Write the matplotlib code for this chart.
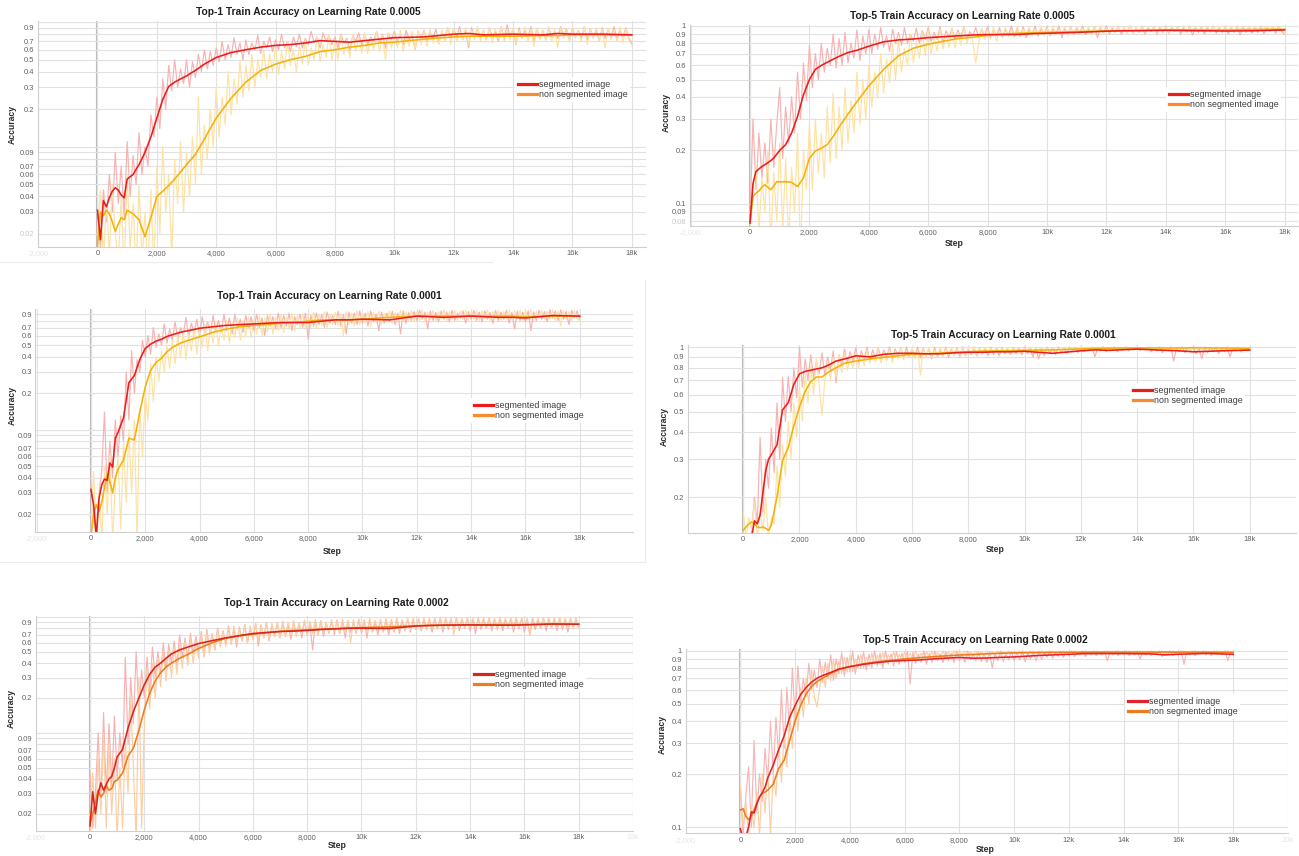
import numpy as np
import matplotlib
matplotlib.use("Agg")
import matplotlib.pyplot as plt
from matplotlib.lines import Line2D
from matplotlib.ticker import FixedLocator, FixedFormatter, NullLocator

W, H = 1299, 856
plt.rcParams['font.family'] = ['Liberation Sans', 'DejaVu Sans']

# ---------------- data ----------------
SMOOTH_STEPS = [0, 100, 200, 300, 400, 500, 600, 700, 800, 900, 1000,
                1200, 1400, 1600, 1800, 2000, 2200, 2400, 2600, 2800, 3000,
                3300, 3600, 4000, 4500, 5000, 5500, 6000, 6500, 7000, 7500, 8000, 8500, 9000, 9500, 10000,
                11000, 12000, 12500, 13000, 14000, 15000, 15500, 16000, 17000, 18000]
RAW_INTERVAL = 100

X_TICKS = [-2000, 0, 2000, 4000, 6000, 8000, 10000, 12000, 14000, 16000, 18000, 20000]
X_LABELS = ["-2,000", "0", "2,000", "4,000", "6,000", "8,000", "10k", "12k", "14k", "16k", "18k", "20k"]
LEGEND_LABELS = ["segmented image", "non segmented image"]

# Panel 1: Top-1, lr 0.0005
p1_seg = [0.031, 0.018, 0.037, 0.033, 0.039, 0.044, 0.047, 0.045, 0.041, 0.039, 0.055,
          0.060, 0.072, 0.090, 0.120, 0.170, 0.240, 0.305, 0.330, 0.350, 0.370,
          0.410, 0.460, 0.520, 0.570, 0.600, 0.630, 0.650, 0.660, 0.680, 0.710, 0.700, 0.690, 0.710, 0.730, 0.750,
          0.760, 0.800, 0.810, 0.790, 0.800, 0.790, 0.810, 0.800, 0.800, 0.790]
p1_non = [0.016, 0.030, 0.028, 0.031, 0.029, 0.025, 0.021, 0.024, 0.027, 0.026, 0.031,
          0.029, 0.026, 0.019, 0.027, 0.040, 0.044, 0.049, 0.055, 0.063, 0.072,
          0.087, 0.115, 0.170, 0.245, 0.330, 0.410, 0.460, 0.500, 0.530, 0.580, 0.600, 0.630, 0.650, 0.680, 0.690,
          0.730, 0.760, 0.770, 0.770, 0.770, 0.780, 0.780, 0.790, 0.790, 0.790]
p1_seg_raw = [0.03, 0.015, 0.045, 0.025, 0.06, 0.03, 0.09, 0.035, 0.07, 0.028,
              0.11, 0.04, 0.085, 0.05, 0.13, 0.06, 0.1, 0.07, 0.18, 0.12,
              0.25, 0.14, 0.35, 0.2, 0.45, 0.28, 0.5, 0.3, 0.42, 0.32,
              0.5, 0.3, 0.48, 0.36, 0.55, 0.4, 0.6, 0.42, 0.58, 0.45,
              0.62, 0.48, 0.7, 0.5, 0.66, 0.52, 0.75, 0.55, 0.68, 0.5,
              0.72, 0.55, 0.68, 0.6, 0.78, 0.56, 0.7, 0.62, 0.76, 0.58,
              0.72, 0.6, 0.8, 0.62, 0.7, 0.58, 0.76, 0.64, 0.8, 0.62,
              0.74, 0.66, 0.84, 0.68, 0.76, 0.62, 0.82, 0.7, 0.78, 0.66,
              0.76, 0.62, 0.8, 0.68, 0.74, 0.58, 0.78, 0.7, 0.82, 0.66,
              0.8, 0.66, 0.76, 0.7, 0.84, 0.68, 0.8, 0.62, 0.82, 0.72,
              0.84, 0.7, 0.8, 0.66, 0.86, 0.72, 0.78, 0.6, 0.84, 0.74,
              0.86, 0.7, 0.82, 0.74, 0.88, 0.68, 0.84, 0.76, 0.9, 0.74,
              0.88, 0.76, 0.92, 0.72, 0.86, 0.62, 0.9, 0.76, 0.88, 0.74,
              0.86, 0.72, 0.9, 0.76, 0.84, 0.7, 0.92, 0.74, 0.95, 0.76,
              0.88, 0.66, 0.9, 0.74, 0.86, 0.76, 0.92, 0.7, 0.88, 0.74,
              0.86, 0.72, 0.9, 0.76, 0.84, 0.74, 0.92, 0.78, 0.88, 0.72,
              0.9, 0.76, 0.86, 0.74, 0.92, 0.72, 0.88, 0.76, 0.86, 0.7,
              0.9, 0.74, 0.88, 0.76, 0.92, 0.72, 0.86, 0.76, 0.9, 0.74,
              0.68]
p1_non_raw = [0.02, 0.045, 0.012, 0.035, 0.014, 0.05, 0.02, 0.012, 0.04, 0.01,
              0.06, 0.015, 0.035, 0.01, 0.05, 0.012, 0.03, 0.01, 0.045, 0.01,
              0.07, 0.02, 0.1, 0.03, 0.06, 0.012, 0.08, 0.035, 0.11, 0.03,
              0.09, 0.04, 0.12, 0.05, 0.25, 0.06, 0.15, 0.08, 0.2, 0.1,
              0.3, 0.12, 0.25, 0.15, 0.4, 0.18, 0.35, 0.22, 0.5, 0.25,
              0.45, 0.28, 0.55, 0.3, 0.5, 0.36, 0.6, 0.35, 0.55, 0.4,
              0.65, 0.38, 0.58, 0.42, 0.7, 0.45, 0.6, 0.4, 0.66, 0.46,
              0.72, 0.45, 0.62, 0.5, 0.76, 0.48, 0.66, 0.52, 0.8, 0.5,
              0.7, 0.5, 0.78, 0.55, 0.72, 0.52, 0.8, 0.58, 0.76, 0.56,
              0.82, 0.56, 0.74, 0.6, 0.84, 0.58, 0.78, 0.5, 0.82, 0.62,
              0.8, 0.62, 0.86, 0.58, 0.78, 0.64, 0.84, 0.6, 0.86, 0.66,
              0.84, 0.64, 0.88, 0.68, 0.8, 0.66, 0.86, 0.7, 0.9, 0.66,
              0.88, 0.7, 0.84, 0.72, 0.9, 0.66, 0.86, 0.72, 0.92, 0.7,
              0.86, 0.72, 0.9, 0.68, 0.88, 0.74, 0.92, 0.7, 0.86, 0.72,
              0.9, 0.66, 0.86, 0.74, 0.92, 0.7, 0.88, 0.64, 0.9, 0.72,
              0.86, 0.72, 0.92, 0.7, 0.88, 0.62, 0.9, 0.74, 0.86, 0.7,
              0.9, 0.74, 0.86, 0.7, 0.92, 0.66, 0.88, 0.74, 0.9, 0.7,
              0.88, 0.62, 0.9, 0.72, 0.86, 0.7, 0.92, 0.68, 0.88, 0.72,
              0.65]

# Panel 2: Top-5, lr 0.0005
p2_seg = [0.078, 0.130, 0.152, 0.157, 0.162, 0.166, 0.170, 0.175, 0.181, 0.190, 0.200,
          0.215, 0.250, 0.310, 0.410, 0.500, 0.570, 0.600, 0.625, 0.650, 0.675,
          0.710, 0.730, 0.770, 0.815, 0.835, 0.845, 0.860, 0.870, 0.880, 0.890, 0.895, 0.895, 0.895, 0.905, 0.910,
          0.920, 0.935, 0.940, 0.940, 0.945, 0.940, 0.940, 0.937, 0.940, 0.950]
p2_non = [0.078, 0.110, 0.115, 0.118, 0.124, 0.128, 0.124, 0.120, 0.126, 0.133, 0.133,
          0.133, 0.132, 0.125, 0.140, 0.180, 0.198, 0.205, 0.215, 0.239, 0.270,
          0.320, 0.375, 0.460, 0.570, 0.680, 0.750, 0.790, 0.820, 0.850, 0.865, 0.885, 0.900, 0.910, 0.915, 0.920,
          0.930, 0.937, 0.940, 0.945, 0.950, 0.953, 0.950, 0.950, 0.955, 0.958]
p2_seg_raw = [0.08, 0.3, 0.12, 0.25, 0.14, 0.22, 0.13, 0.3, 0.16, 0.28,
              0.45, 0.18, 0.35, 0.22, 0.4, 0.25, 0.55, 0.3, 0.62, 0.38,
              0.78, 0.45, 0.7, 0.5, 0.8, 0.55, 0.75, 0.6, 0.9, 0.58,
              0.85, 0.6, 0.92, 0.62, 0.8, 0.66, 0.95, 0.64, 0.88, 0.7,
              0.95, 0.7, 0.9, 0.74, 0.98, 0.76, 0.88, 0.72, 0.96, 0.8,
              0.92, 0.78, 0.98, 0.8, 0.9, 0.82, 0.97, 0.8, 0.94, 0.84,
              0.98, 0.82, 0.92, 0.84, 0.99, 0.8, 0.94, 0.86, 0.97, 0.84,
              0.95, 0.86, 0.99, 0.84, 0.93, 0.88, 0.98, 0.86, 0.96, 0.88,
              0.99, 0.86, 0.94, 0.88, 0.98, 0.86, 0.95, 0.89, 1.0, 0.87,
              0.96, 0.88, 0.99, 0.86, 0.95, 0.9, 1.0, 0.88, 0.96, 0.9,
              0.99, 0.88, 0.96, 0.9, 1.0, 0.86, 0.97, 0.9, 0.99, 0.89,
              0.97, 0.91, 1.0, 0.89, 0.96, 0.92, 0.99, 0.86, 0.98, 0.91,
              1.0, 0.9, 0.97, 0.92, 0.99, 0.9, 0.96, 0.93, 1.0, 0.91,
              0.98, 0.92, 1.0, 0.9, 0.97, 0.93, 0.99, 0.9, 0.98, 0.92,
              1.0, 0.91, 0.97, 0.93, 0.99, 0.9, 0.98, 0.92, 1.0, 0.89,
              0.97, 0.92, 0.99, 0.9, 0.98, 0.93, 1.0, 0.91, 0.97, 0.92,
              0.99, 0.9, 0.97, 0.92, 1.0, 0.89, 0.98, 0.92, 0.99, 0.91,
              0.97, 0.92, 1.0, 0.9, 0.98, 0.93, 0.99, 0.91, 1.0, 0.93,
              0.9]
p2_non_raw = [0.07, 0.12, 0.16, 0.07, 0.14, 0.09, 0.2, 0.06, 0.15, 0.08,
              0.22, 0.07, 0.18, 0.06, 0.16, 0.09, 0.25, 0.05, 0.2, 0.12,
              0.28, 0.12, 0.3, 0.15, 0.25, 0.14, 0.35, 0.17, 0.42, 0.18,
              0.35, 0.2, 0.45, 0.22, 0.38, 0.25, 0.55, 0.28, 0.5, 0.3,
              0.6, 0.35, 0.55, 0.4, 0.7, 0.42, 0.65, 0.48, 0.8, 0.5,
              0.85, 0.55, 0.75, 0.6, 0.9, 0.62, 0.82, 0.66, 0.92, 0.68,
              0.95, 0.7, 0.88, 0.72, 0.96, 0.74, 0.9, 0.76, 0.97, 0.75,
              0.92, 0.78, 0.98, 0.8, 0.9, 0.82, 0.62, 0.8, 0.97, 0.84,
              0.95, 0.84, 0.99, 0.82, 0.94, 0.86, 0.98, 0.87, 0.95, 0.86,
              1.0, 0.87, 0.96, 0.89, 0.99, 0.88, 0.95, 0.9, 1.0, 0.88,
              0.97, 0.9, 1.0, 0.89, 0.96, 0.91, 0.99, 0.88, 0.98, 0.9,
              1.0, 0.9, 0.97, 0.92, 0.99, 0.9, 0.98, 0.92, 1.0, 0.9,
              0.97, 0.92, 1.0, 0.91, 0.98, 0.93, 0.99, 0.91, 1.0, 0.92,
              0.98, 0.93, 1.0, 0.92, 0.99, 0.94, 0.98, 0.92, 1.0, 0.93,
              0.99, 0.92, 1.0, 0.94, 0.98, 0.93, 1.0, 0.92, 0.99, 0.94,
              1.0, 0.93, 0.99, 0.94, 1.0, 0.92, 0.99, 0.94, 1.0, 0.93,
              0.99, 0.94, 1.0, 0.93, 0.99, 0.95, 1.0, 0.93, 0.99, 0.94,
              1.0, 0.93, 0.99, 0.95, 1.0, 0.94, 0.99, 0.95, 1.0, 0.94,
              0.92]

# Panel 3: Top-1, lr 0.0001
p3_seg = [0.032, 0.024, 0.013, 0.027, 0.035, 0.039, 0.038, 0.053, 0.049, 0.085, 0.095,
          0.125, 0.245, 0.280, 0.380, 0.470, 0.510, 0.540, 0.560, 0.590, 0.610,
          0.640, 0.660, 0.690, 0.710, 0.730, 0.740, 0.750, 0.760, 0.770, 0.770, 0.770, 0.790, 0.810, 0.810, 0.820,
          0.810, 0.870, 0.860, 0.850, 0.870, 0.850, 0.850, 0.840, 0.880, 0.870]
p3_non = [0.013, 0.020, 0.024, 0.021, 0.025, 0.033, 0.043, 0.037, 0.030, 0.040, 0.047,
          0.056, 0.085, 0.082, 0.140, 0.225, 0.310, 0.360, 0.390, 0.440, 0.480,
          0.520, 0.550, 0.585, 0.640, 0.680, 0.710, 0.730, 0.740, 0.760, 0.770, 0.790, 0.810, 0.810, 0.810, 0.820,
          0.850, 0.870, 0.870, 0.870, 0.870, 0.870, 0.870, 0.860, 0.870, 0.870]
p3_seg_raw = [0.035, 0.02, 0.012, 0.03, 0.045, 0.14, 0.03, 0.08, 0.04, 0.12,
              0.06, 0.13, 0.08, 0.3, 0.12, 0.45, 0.2, 0.38, 0.3, 0.55,
              0.4, 0.6, 0.42, 0.7, 0.48, 0.62, 0.5, 0.75, 0.52, 0.68,
              0.55, 0.78, 0.56, 0.7, 0.6, 0.85, 0.58, 0.76, 0.62, 0.82,
              0.6, 0.86, 0.64, 0.78, 0.62, 0.88, 0.66, 0.8, 0.64, 0.9,
              0.66, 0.84, 0.62, 0.9, 0.68, 0.82, 0.64, 0.88, 0.7, 0.86,
              0.66, 0.9, 0.7, 0.84, 0.6, 0.88, 0.72, 0.86, 0.68, 0.92,
              0.7, 0.88, 0.72, 0.92, 0.66, 0.86, 0.74, 0.9, 0.7, 0.92,
              0.56, 0.88, 0.72, 0.92, 0.74, 0.9, 0.7, 0.94, 0.76, 0.88,
              0.74, 0.95, 0.72, 0.9, 0.62, 0.94, 0.76, 0.92, 0.74, 0.96,
              0.76, 0.92, 0.72, 0.96, 0.78, 0.9, 0.66, 0.94, 0.76, 0.92,
              0.78, 0.95, 0.74, 0.92, 0.62, 0.96, 0.76, 0.93, 0.8, 0.95,
              0.8, 0.97, 0.82, 0.94, 0.68, 0.96, 0.8, 0.93, 0.78, 0.96,
              0.82, 0.94, 0.78, 0.97, 0.8, 0.92, 0.84, 0.96, 0.76, 0.95,
              0.82, 0.97, 0.8, 0.94, 0.78, 0.96, 0.82, 0.93, 0.76, 0.97,
              0.8, 0.94, 0.82, 0.97, 0.76, 0.93, 0.68, 0.96, 0.8, 0.94,
              0.78, 0.96, 0.66, 0.94, 0.8, 0.97, 0.82, 0.95, 0.78, 0.98,
              0.84, 0.96, 0.8, 0.98, 0.82, 0.95, 0.74, 0.97, 0.84, 0.96,
              0.82]
p3_non_raw = [0.012, 0.045, 0.015, 0.03, 0.012, 0.05, 0.02, 0.06, 0.012, 0.035,
              0.06, 0.015, 0.08, 0.025, 0.1, 0.03, 0.12, 0.012, 0.15, 0.06,
              0.2, 0.12, 0.35, 0.17, 0.4, 0.25, 0.45, 0.3, 0.5, 0.32,
              0.55, 0.35, 0.6, 0.4, 0.65, 0.38, 0.62, 0.45, 0.7, 0.42,
              0.68, 0.48, 0.75, 0.45, 0.72, 0.52, 0.78, 0.5, 0.74, 0.55,
              0.8, 0.52, 0.76, 0.58, 0.84, 0.55, 0.8, 0.6, 0.86, 0.58,
              0.82, 0.62, 0.88, 0.6, 0.84, 0.64, 0.9, 0.62, 0.86, 0.66,
              0.9, 0.64, 0.86, 0.68, 0.92, 0.66, 0.88, 0.7, 0.92, 0.68,
              0.88, 0.7, 0.94, 0.68, 0.9, 0.72, 0.95, 0.7, 0.9, 0.74,
              0.94, 0.72, 0.9, 0.6, 0.95, 0.74, 0.92, 0.72, 0.96, 0.74,
              0.92, 0.76, 0.95, 0.72, 0.93, 0.76, 0.96, 0.74, 0.92, 0.78,
              0.96, 0.76, 0.93, 0.8, 0.97, 0.78, 0.94, 0.8, 0.97, 0.78,
              0.95, 0.8, 0.98, 0.78, 0.94, 0.82, 0.97, 0.8, 0.95, 0.82,
              0.98, 0.8, 0.95, 0.82, 0.97, 0.79, 0.96, 0.82, 0.98, 0.8,
              0.95, 0.82, 0.97, 0.8, 0.96, 0.83, 0.98, 0.8, 0.95, 0.82,
              0.97, 0.8, 0.95, 0.83, 0.98, 0.81, 0.96, 0.82, 0.97, 0.8,
              0.96, 0.82, 0.98, 0.8, 0.95, 0.83, 0.97, 0.81, 0.96, 0.82,
              0.98, 0.8, 0.96, 0.72, 0.97, 0.82, 0.95, 0.8, 0.97, 0.82,
              0.8]

# Panel 4: Top-5, lr 0.0001
p4_seg = [0.110, 0.120, 0.125, 0.130, 0.155, 0.150, 0.165, 0.210, 0.265, 0.300, 0.315,
          0.350, 0.510, 0.550, 0.670, 0.750, 0.770, 0.780, 0.790, 0.800, 0.820,
          0.860, 0.880, 0.910, 0.900, 0.925, 0.935, 0.935, 0.930, 0.930, 0.940, 0.945, 0.945, 0.950, 0.950, 0.955,
          0.935, 0.960, 0.970, 0.965, 0.978, 0.965, 0.960, 0.950, 0.960, 0.968]
p4_non = [0.140, 0.145, 0.150, 0.153, 0.150, 0.145, 0.144, 0.145, 0.143, 0.140, 0.148,
          0.200, 0.296, 0.340, 0.430, 0.525, 0.620, 0.690, 0.725, 0.725, 0.760,
          0.800, 0.840, 0.860, 0.880, 0.895, 0.910, 0.925, 0.930, 0.937, 0.945, 0.950, 0.957, 0.960, 0.962, 0.965,
          0.970, 0.980, 0.986, 0.988, 0.990, 0.990, 0.990, 0.993, 0.990, 0.986]
p4_seg_raw = [0.1, 0.12, 0.1, 0.14, 0.2, 0.15, 0.38, 0.17, 0.3, 0.22,
              0.42, 0.26, 0.55, 0.3, 0.72, 0.45, 0.73, 0.5, 0.8, 0.58,
              1.0, 0.65, 0.88, 0.7, 0.92, 0.72, 0.85, 0.75, 0.94, 0.74,
              0.9, 0.78, 0.96, 0.68, 0.92, 0.82, 0.98, 0.84, 0.95, 0.86,
              0.99, 0.85, 0.96, 0.88, 1.0, 0.86, 0.97, 0.89, 0.99, 0.88,
              0.97, 0.9, 1.0, 0.88, 0.98, 0.91, 0.99, 0.89, 1.0, 0.9,
              0.98, 0.9, 1.0, 0.89, 0.99, 0.91, 0.98, 0.88, 1.0, 0.9,
              0.97, 0.91, 1.0, 0.89, 0.98, 0.92, 0.99, 0.9, 1.0, 0.91,
              0.98, 0.92, 1.0, 0.91, 0.99, 0.93, 0.98, 0.91, 1.0, 0.92,
              0.99, 0.91, 1.0, 0.93, 0.98, 0.92, 1.0, 0.93, 0.99, 0.92,
              1.0, 0.93, 0.98, 0.9, 0.99, 0.88, 0.98, 0.91, 1.0, 0.93,
              0.99, 0.92, 1.0, 0.94, 0.99, 0.93, 1.0, 0.95, 0.99, 0.94,
              1.0, 0.95, 0.99, 0.96, 1.0, 0.9, 0.99, 0.96, 1.0, 0.95,
              0.99, 0.96, 1.0, 0.95, 0.99, 0.97, 1.0, 0.96, 0.99, 0.97,
              1.0, 0.96, 0.99, 0.97, 1.0, 0.95, 0.99, 0.96, 1.0, 0.94,
              0.99, 0.96, 1.0, 0.86, 0.99, 0.95, 1.0, 0.94, 0.99, 0.96,
              1.0, 0.93, 0.99, 0.88, 1.0, 0.94, 0.99, 0.95, 1.0, 0.93,
              0.99, 0.95, 1.0, 0.9, 0.99, 0.96, 1.0, 0.95, 0.99, 0.96,
              0.97]
p4_non_raw = [0.17, 0.13, 0.16, 0.14, 0.19, 0.13, 0.17, 0.14, 0.2, 0.13,
              0.16, 0.15, 0.28, 0.18, 0.35, 0.25, 0.45, 0.3, 0.55, 0.38,
              0.65, 0.45, 0.75, 0.55, 0.82, 0.6, 0.88, 0.66, 0.48, 0.7,
              0.86, 0.7, 0.9, 0.72, 0.92, 0.76, 0.94, 0.78, 0.9, 0.8,
              0.95, 0.8, 0.92, 0.82, 0.97, 0.84, 0.93, 0.85, 0.98, 0.84,
              0.95, 0.86, 0.98, 0.85, 0.96, 0.88, 0.99, 0.87, 0.96, 0.89,
              0.99, 0.88, 0.97, 0.74, 0.98, 0.9, 1.0, 0.89, 0.97, 0.91,
              1.0, 0.9, 0.98, 0.92, 1.0, 0.91, 0.98, 0.92, 1.0, 0.91,
              0.99, 0.93, 1.0, 0.92, 0.99, 0.94, 1.0, 0.93, 0.99, 0.94,
              1.0, 0.94, 0.99, 0.95, 1.0, 0.93, 0.99, 0.95, 1.0, 0.94,
              0.99, 0.95, 1.0, 0.94, 0.99, 0.96, 1.0, 0.95, 0.99, 0.96,
              1.0, 0.95, 0.99, 0.96, 1.0, 0.97, 0.99, 0.96, 1.0, 0.97,
              1.0, 0.97, 0.99, 0.98, 1.0, 0.97, 1.0, 0.98, 0.99, 0.97,
              1.0, 0.98, 0.99, 0.97, 1.0, 0.98, 1.0, 0.97, 0.99, 0.98,
              1.0, 0.98, 0.99, 0.97, 1.0, 0.98, 0.99, 0.98, 1.0, 0.97,
              0.99, 0.98, 1.0, 0.97, 0.99, 0.98, 1.0, 0.98, 0.99, 0.97,
              1.0, 0.98, 0.99, 0.97, 1.0, 0.98, 0.99, 0.98, 1.0, 0.97,
              0.99, 0.98, 1.0, 0.97, 0.99, 0.98, 1.0, 0.98, 0.99, 0.97,
              0.98]

# Panel 5: Top-1, lr 0.0002
p5_seg = [0.0157, 0.031, 0.020, 0.030, 0.037, 0.032, 0.036, 0.040, 0.042, 0.050, 0.062,
          0.072, 0.110, 0.153, 0.200, 0.260, 0.320, 0.370, 0.400, 0.440, 0.480,
          0.520, 0.550, 0.590, 0.625, 0.660, 0.690, 0.720, 0.735, 0.750, 0.755, 0.765, 0.780, 0.790, 0.800, 0.800,
          0.795, 0.835, 0.845, 0.850, 0.855, 0.850, 0.850, 0.855, 0.870, 0.866]
p5_non = [0.0168, 0.020, 0.025, 0.032, 0.028, 0.030, 0.035, 0.032, 0.033, 0.038, 0.039,
          0.045, 0.063, 0.074, 0.105, 0.158, 0.220, 0.280, 0.330, 0.370, 0.400,
          0.440, 0.475, 0.535, 0.600, 0.655, 0.690, 0.710, 0.730, 0.750, 0.765, 0.775, 0.785, 0.790, 0.800, 0.810,
          0.820, 0.840, 0.845, 0.850, 0.855, 0.860, 0.860, 0.860, 0.865, 0.866]
p5_seg_raw = [0.045, 0.015, 0.03, 0.1, 0.025, 0.15, 0.03, 0.12, 0.035, 0.14,
              0.04, 0.1, 0.05, 0.45, 0.08, 0.3, 0.12, 0.5, 0.15, 0.35,
              0.2, 0.45, 0.22, 0.55, 0.3, 0.5, 0.32, 0.6, 0.35, 0.58,
              0.4, 0.62, 0.38, 0.7, 0.45, 0.66, 0.44, 0.72, 0.48, 0.68,
              0.5, 0.75, 0.46, 0.78, 0.55, 0.72, 0.52, 0.8, 0.56, 0.76,
              0.58, 0.84, 0.6, 0.78, 0.55, 0.82, 0.62, 0.86, 0.6, 0.8,
              0.64, 0.88, 0.56, 0.84, 0.66, 0.9, 0.62, 0.86, 0.68, 0.88,
              0.66, 0.9, 0.68, 0.86, 0.64, 0.9, 0.7, 0.88, 0.66, 0.92,
              0.7, 0.86, 0.52, 0.9, 0.7, 0.92, 0.68, 0.88, 0.72, 0.92,
              0.7, 0.94, 0.72, 0.9, 0.66, 0.92, 0.74, 0.9, 0.72, 0.94,
              0.72, 0.92, 0.66, 0.94, 0.74, 0.9, 0.7, 0.93, 0.74, 0.95,
              0.7, 0.92, 0.74, 0.95, 0.72, 0.93, 0.76, 0.96, 0.74, 0.94,
              0.78, 0.96, 0.76, 0.94, 0.78, 0.97, 0.74, 0.95, 0.8, 0.96,
              0.74, 0.97, 0.78, 0.94, 0.8, 0.98, 0.76, 0.95, 0.8, 0.97,
              0.76, 0.96, 0.72, 0.98, 0.78, 0.95, 0.8, 0.97, 0.76, 0.96,
              0.78, 0.98, 0.76, 0.95, 0.8, 0.97, 0.74, 0.96, 0.78, 0.98,
              0.74, 0.96, 0.7, 0.97, 0.78, 0.95, 0.8, 0.98, 0.76, 0.96,
              0.8, 0.97, 0.76, 0.98, 0.78, 0.95, 0.74, 0.97, 0.8, 0.96,
              0.82]
p5_non_raw = [0.012, 0.045, 0.015, 0.06, 0.02, 0.1, 0.015, 0.08, 0.02, 0.06,
              0.012, 0.05, 0.015, 0.09, 0.03, 0.2, 0.05, 0.012, 0.3, 0.015,
              0.12, 0.35, 0.16, 0.4, 0.2, 0.45, 0.25, 0.5, 0.28, 0.52,
              0.3, 0.55, 0.32, 0.58, 0.36, 0.62, 0.38, 0.66, 0.4, 0.62,
              0.44, 0.7, 0.45, 0.74, 0.48, 0.7, 0.52, 0.78, 0.55, 0.75,
              0.56, 0.8, 0.58, 0.84, 0.6, 0.8, 0.62, 0.86, 0.6, 0.84,
              0.64, 0.88, 0.62, 0.86, 0.66, 0.9, 0.64, 0.88, 0.68, 0.9,
              0.66, 0.92, 0.68, 0.9, 0.7, 0.93, 0.68, 0.9, 0.72, 0.94,
              0.7, 0.92, 0.72, 0.95, 0.7, 0.93, 0.74, 0.9, 0.72, 0.95,
              0.74, 0.93, 0.72, 0.96, 0.75, 0.94, 0.6, 0.95, 0.74, 0.96,
              0.76, 0.95, 0.74, 0.97, 0.76, 0.94, 0.77, 0.96, 0.75, 0.97,
              0.78, 0.96, 0.76, 0.98, 0.78, 0.95, 0.8, 0.97, 0.77, 0.98,
              0.8, 0.97, 0.78, 0.99, 0.8, 0.96, 0.82, 0.98, 0.78, 0.99,
              0.8, 0.97, 0.82, 0.99, 0.7, 0.98, 0.82, 0.97, 0.8, 0.99,
              0.82, 0.98, 0.8, 0.97, 0.83, 0.99, 0.8, 0.98, 0.82, 0.97,
              0.8, 0.99, 0.82, 0.97, 0.81, 0.98, 0.83, 0.99, 0.8, 0.98,
              0.82, 0.97, 0.7, 0.99, 0.82, 0.98, 0.8, 0.97, 0.83, 0.99,
              0.8, 0.98, 0.82, 0.99, 0.81, 0.97, 0.83, 0.98, 0.8, 0.99,
              0.8]

# Panel 6: Top-5, lr 0.0002
p6_seg = [0.098, 0.085, 0.088, 0.100, 0.122, 0.120, 0.135, 0.148, 0.157, 0.168, 0.190,
          0.225, 0.275, 0.330, 0.420, 0.490, 0.565, 0.620, 0.665, 0.700, 0.725,
          0.755, 0.790, 0.815, 0.840, 0.860, 0.875, 0.883, 0.888, 0.900, 0.910, 0.918, 0.910, 0.912, 0.920, 0.925,
          0.945, 0.957, 0.965, 0.966, 0.966, 0.962, 0.950, 0.958, 0.968, 0.957]
p6_non = [0.125, 0.127, 0.115, 0.110, 0.115, 0.125, 0.137, 0.148, 0.155, 0.158, 0.162,
          0.175, 0.215, 0.240, 0.310, 0.400, 0.490, 0.570, 0.630, 0.670, 0.700,
          0.745, 0.785, 0.815, 0.845, 0.868, 0.885, 0.900, 0.915, 0.927, 0.938, 0.948, 0.955, 0.963, 0.970, 0.975,
          0.980, 0.983, 0.984, 0.985, 0.985, 0.985, 0.985, 0.985, 0.985, 0.983]
p6_seg_raw = [0.17, 0.09, 0.15, 0.22, 0.1, 0.31, 0.12, 0.2, 0.14, 0.28,
              0.18, 0.4, 0.2, 0.42, 0.25, 0.6, 0.28, 0.62, 0.35, 0.8,
              0.4, 0.82, 0.5, 0.7, 0.55, 0.85, 0.6, 0.78, 0.62, 0.9,
              0.66, 0.86, 0.7, 0.95, 0.68, 0.9, 0.74, 0.98, 0.72, 0.92,
              0.76, 1.0, 0.74, 0.95, 0.8, 0.99, 0.78, 0.96, 0.8, 1.0,
              0.82, 0.97, 0.8, 1.0, 0.84, 0.96, 0.82, 0.99, 0.84, 0.97,
              0.86, 1.0, 0.65, 0.98, 0.85, 0.96, 0.86, 1.0, 0.84, 0.97,
              0.86, 1.0, 0.88, 0.96, 0.86, 0.99, 0.88, 0.97, 0.86, 1.0,
              0.88, 0.97, 0.86, 1.0, 0.89, 0.96, 0.88, 0.99, 0.87, 0.97,
              0.86, 0.99, 0.8, 0.97, 0.88, 1.0, 0.87, 0.96, 0.89, 0.99,
              0.88, 0.98, 0.89, 1.0, 0.87, 0.97, 0.9, 0.99, 0.88, 1.0,
              0.9, 0.98, 0.92, 1.0, 0.91, 0.98, 0.93, 1.0, 0.92, 0.99,
              0.94, 1.0, 0.93, 0.98, 0.95, 1.0, 0.93, 0.99, 0.95, 1.0,
              0.94, 0.99, 0.95, 1.0, 0.88, 0.99, 0.95, 1.0, 0.94, 0.99,
              0.96, 1.0, 0.94, 0.99, 0.95, 1.0, 0.9, 0.99, 0.95, 1.0,
              0.94, 0.99, 0.96, 1.0, 0.93, 0.99, 0.95, 1.0, 0.94, 0.99,
              0.95, 1.0, 0.84, 0.99, 0.95, 1.0, 0.94, 0.99, 0.96, 1.0,
              0.95, 0.99, 0.94, 1.0, 0.96, 0.99, 0.95, 1.0, 0.88, 0.99,
              0.95]
p6_non_raw = [0.17, 0.1, 0.14, 0.09, 0.13, 0.1, 0.16, 0.09, 0.2, 0.12,
              0.22, 0.09, 0.2, 0.15, 0.3, 0.18, 0.35, 0.22, 0.45, 0.28,
              0.55, 0.35, 0.62, 0.42, 0.7, 0.5, 0.78, 0.55, 0.48, 0.62,
              0.82, 0.62, 0.85, 0.68, 0.9, 0.7, 0.88, 0.74, 0.92, 0.76,
              0.94, 0.76, 0.9, 0.8, 0.96, 0.8, 0.92, 0.82, 0.97, 0.84,
              0.95, 0.84, 0.98, 0.86, 0.95, 0.87, 0.99, 0.86, 0.96, 0.88,
              0.99, 0.88, 0.97, 0.89, 1.0, 0.9, 0.97, 0.9, 0.99, 0.91,
              1.0, 0.91, 0.98, 0.92, 1.0, 0.92, 0.99, 0.93, 1.0, 0.93,
              0.99, 0.94, 1.0, 0.93, 0.99, 0.95, 1.0, 0.94, 0.99, 0.95,
              1.0, 0.95, 0.99, 0.96, 1.0, 0.95, 0.99, 0.96, 1.0, 0.96,
              0.99, 0.97, 1.0, 0.96, 0.99, 0.97, 1.0, 0.96, 0.99, 0.97,
              1.0, 0.97, 0.99, 0.98, 1.0, 0.97, 0.99, 0.98, 1.0, 0.97,
              0.99, 0.98, 1.0, 0.97, 0.99, 0.98, 1.0, 0.97, 0.99, 0.98,
              1.0, 0.97, 0.99, 0.98, 1.0, 0.97, 0.99, 0.98, 1.0, 0.97,
              0.99, 0.98, 1.0, 0.97, 0.99, 0.98, 1.0, 0.97, 0.99, 0.98,
              1.0, 0.97, 0.99, 0.98, 1.0, 0.97, 0.99, 0.98, 1.0, 0.97,
              0.99, 0.98, 1.0, 0.97, 0.99, 0.98, 1.0, 0.97, 0.99, 0.98,
              1.0, 0.97, 0.99, 0.98, 1.0, 0.97, 0.99, 0.98, 1.0, 0.97,
              0.98]

TOP1_GRID = [0.02, 0.03, 0.04, 0.05, 0.06, 0.07, 0.08, 0.09, 0.1, 0.2, 0.3, 0.4, 0.5, 0.6, 0.7, 0.8, 0.9, 1.0]
TOP1_LABELS = ["0.02", "0.03", "0.04", "0.05", "0.06", "0.07", "", "0.09", "", "0.2", "0.3", "0.4", "0.5", "0.6", "0.7", "", "0.9", ""]
TOP5A_GRID = [0.08, 0.09, 0.1, 0.2, 0.3, 0.4, 0.5, 0.6, 0.7, 0.8, 0.9, 1.0]
TOP5A_LABELS = ["0.08", "0.09", "0.1", "0.2", "0.3", "0.4", "0.5", "0.6", "0.7", "0.8", "0.9", "1"]
TOP5B_GRID = [0.2, 0.3, 0.4, 0.5, 0.6, 0.7, 0.8, 0.9, 1.0]
TOP5B_LABELS = ["0.2", "0.3", "0.4", "0.5", "0.6", "0.7", "0.8", "0.9", "1"]
TOP5C_GRID = [0.1, 0.2, 0.3, 0.4, 0.5, 0.6, 0.7, 0.8, 0.9, 1.0]
TOP5C_LABELS = ["0.1", "0.2", "0.3", "0.4", "0.5", "0.6", "0.7", "0.8", "0.9", "1"]

# ---------------- styles ----------------
PALE_RED = "#f8b2b2"
PALE_YEL = "#fde2a4"
PALE_PEACH = "#fbcea4"
RED = "#ec1c1c"
GOLD = "#f4b10a"
RED2 = "#d6271b"
ORANGE = "#ef7b1c"
LEG_ORANGE = "#fb8a2e"

panels = [
    dict(title="Top-1 Train Accuracy on Learning Rate 0.0005", tpos=(308, 12),
         rect=(37.5, 21, 645.8, 246.7), xlim=(-2020, 18470), ylim=(0.0158, 1.02),
         grid=TOP1_GRID, labels=TOP1_LABELS, faint_low=True,
         seg=p1_seg, non=p1_non, seg_raw=p1_seg_raw, non_raw=p1_non_raw,
         cols=(PALE_RED, PALE_YEL, RED, GOLD), leg=(RED, LEG_ORANGE), legpos=(515, 77),
         step=None, acc=(12.5, 125)),
    dict(title="Top-5 Train Accuracy on Learning Rate 0.0005", tpos=(962, 16),
         rect=(689.6, 25, 1298, 226), xlim=(-2034, 18451), ylim=(0.075, 1.013),
         grid=TOP5A_GRID, labels=TOP5A_LABELS, faint_low=True,
         seg=p2_seg, non=p2_non, seg_raw=p2_seg_raw, non_raw=p2_non_raw,
         cols=(PALE_RED, PALE_YEL, RED, GOLD), leg=(RED, LEG_ORANGE), legpos=(1166, 87),
         step=(954, 243), acc=(665.8, 112)),
    dict(title="Top-1 Train Accuracy on Learning Rate 0.0001", tpos=(329, 296),
         rect=(35.4, 309, 633, 531.7), xlim=(-2043, 19960), ylim=(0.0143, 0.996),
         grid=TOP1_GRID, labels=TOP1_LABELS, faint_low=False,
         seg=p3_seg, non=p3_non, seg_raw=p3_seg_raw, non_raw=p3_non_raw,
         cols=(PALE_RED, PALE_YEL, RED, GOLD), leg=(RED, LEG_ORANGE), legpos=(471, 398),
         step=(332, 551), acc=(12.5, 405)),
    dict(title="Top-5 Train Accuracy on Learning Rate 0.0001", tpos=(1003, 335),
         rect=(687.5, 345, 1295.8, 533), xlim=(-1980, 19640), ylim=(0.136, 1.022),
         grid=TOP5B_GRID, labels=TOP5B_LABELS, faint_low=False,
         seg=p4_seg, non=p4_non, seg_raw=p4_seg_raw, non_raw=p4_non_raw,
         cols=(PALE_RED, PALE_YEL, RED, GOLD), leg=(RED, LEG_ORANGE), legpos=(1130, 383),
         step=(995, 550), acc=(663.8, 426)),
    dict(title="Top-1 Train Accuracy on Learning Rate 0.0002", tpos=(336, 603),
         rect=(35.7, 616, 633, 830.7), xlim=(-2000, 20000), ylim=(0.0143, 1.02),
         grid=TOP1_GRID, labels=TOP1_LABELS, faint_low=False,
         seg=p5_seg, non=p5_non, seg_raw=p5_seg_raw, non_raw=p5_non_raw,
         cols=(PALE_RED, PALE_PEACH, RED2, ORANGE), leg=(RED2, ORANGE), legpos=(471, 667),
         step=(337, 846), acc=(11.3, 708)),
    dict(title="Top-5 Train Accuracy on Learning Rate 0.0002", tpos=(975, 640),
         rect=(685.6, 649.3, 1288, 833.3), xlim=(-2000, 20000), ylim=(0.0921, 1.022),
         grid=TOP5C_GRID, labels=TOP5C_LABELS, faint_low=False,
         seg=p6_seg, non=p6_non, seg_raw=p6_seg_raw, non_raw=p6_non_raw,
         cols=("#f7b6b6", PALE_PEACH, "#e3232a", ORANGE), leg=("#e3232a", ORANGE), legpos=(1125, 694),
         step=(985, 850), acc=(662.5, 735)),
]

fig = plt.figure(figsize=(W / 100, H / 100), dpi=100)
fig.patch.set_facecolor("white")


def fx(x):
    return x / W


def fy(y):
    return 1 - y / H


for p in panels:
    x0, y0, x1, y1 = p["rect"]
    ax = fig.add_axes([fx(x0), fy(y1), (x1 - x0) / W, (y1 - y0) / H])
    ax.set_yscale("log")
    ax.set_xlim(*p["xlim"])
    ax.set_ylim(*p["ylim"])
    ax.set_facecolor("white")

    raw_steps_seg = np.arange(len(p["seg_raw"])) * RAW_INTERVAL
    raw_steps_non = np.arange(len(p["non_raw"])) * RAW_INTERVAL
    c_rs, c_rn, c_s, c_n = p["cols"]
    ax.plot(raw_steps_seg, p["seg_raw"], color=c_rs, lw=0.85, zorder=2)
    ax.plot(raw_steps_non, p["non_raw"], color=c_rn, lw=0.85, zorder=2.1)
    ax.plot(SMOOTH_STEPS, p["non"], color=c_n, lw=1.15, zorder=3)
    ax.plot(SMOOTH_STEPS, p["seg"], color=c_s, lw=1.15, zorder=3.1)

    # axes styling
    ax.yaxis.set_major_locator(FixedLocator(p["grid"]))
    ax.yaxis.set_major_formatter(FixedFormatter(p["labels"]))
    ax.yaxis.set_minor_locator(NullLocator())
    ax.xaxis.set_major_locator(FixedLocator(X_TICKS))
    ax.xaxis.set_major_formatter(FixedFormatter(X_LABELS))
    ax.tick_params(axis="both", length=0, labelsize=5.4, colors="#606060")
    ax.tick_params(axis="y", pad=2.5)
    ax.tick_params(axis="x", pad=2.5)
    ax.grid(True, color="#e1e1e1", lw=0.8, zorder=0)
    ax.axvline(0, color="#b9b9b9", lw=1.5, zorder=1)
    for s in ("top", "right"):
        ax.spines[s].set_visible(False)
    for s in ("left", "bottom"):
        ax.spines[s].set_color("#cfcfcf")
        ax.spines[s].set_linewidth(0.8)

    fig.canvas.draw()
    for t in ax.get_xticklabels():
        if t.get_text() in ("-2,000", "20k"):
            t.set_color("#e6e6e6")
    if p["faint_low"]:
        ylabs = ax.get_yticklabels()
        ylabs[0].set_color("#c8c8c8")

    # legend
    handles = [Line2D([], [], color=p["leg"][0], lw=2.3), Line2D([], [], color=p["leg"][1], lw=2.3)]
    lx, ly = p["legpos"]
    leg = ax.legend(handles, LEGEND_LABELS, loc="upper left",
                    bbox_to_anchor=(fx(lx), fy(ly)), bbox_transform=fig.transFigure,
                    frameon=True, fancybox=False, framealpha=1, edgecolor="none",
                    facecolor="white", fontsize=6.4, handlelength=2.2, handletextpad=0.2,
                    labelspacing=0.15, borderpad=0.3, borderaxespad=0)
    for t in leg.get_texts():
        t.set_color("#3c3c3c")
    leg.set_zorder(5)

    fig.text(fx(p["tpos"][0]), fy(p["tpos"][1]), p["title"], ha="center", va="center",
             fontsize=7.4, fontweight="bold", color="#1e1e1e")
    if p["step"] is not None:
        fig.text(fx(p["step"][0]), fy(p["step"][1]), "Step", ha="center", va="center",
                 fontsize=6.2, fontweight="bold", color="#2a2a2a")
    fig.text(fx(p["acc"][0]), fy(p["acc"][1]), "Accuracy", ha="center", va="center",
             rotation=90, fontsize=6.2, fontweight="bold", color="#2a2a2a")

# faint screenshot borders
fig.add_artist(Line2D([fx(0), fx(492)], [fy(262), fy(262)], color="#ececec", lw=0.8))
fig.add_artist(Line2D([fx(645), fx(645)], [fy(280), fy(562)], color="#ececec", lw=0.8))
fig.add_artist(Line2D([fx(0), fx(645)], [fy(562), fy(562)], color="#ececec", lw=0.8))

fig.savefig("out.png", dpi=100, facecolor="white")
